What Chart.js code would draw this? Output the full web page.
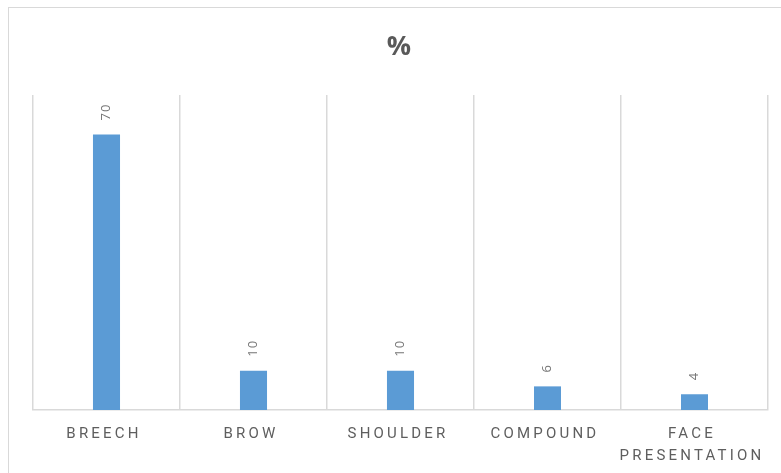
<!DOCTYPE html>
<html>
<head>
<meta charset="utf-8">
<script src="https://cdn.jsdelivr.net/npm/chart.js@4/dist/chart.umd.min.js"></script>
<style>
  html, body { margin: 0; padding: 0; background: #ffffff; overflow: hidden; }
  #frame { position: absolute; left: 8px; top: 7px; width: 800px; height: 500px;
           border: 1.5px solid #d9d9d9; box-sizing: border-box; }
  #wrap { position: absolute; left: 0; top: 0; width: 781px; height: 473px; }
</style>
</head>
<body>
<div id="frame"></div>
<div id="wrap"><canvas id="c" width="781" height="473"></canvas></div>
<script>
const categories = ['BREECH', 'BROW', 'SHOULDER', 'COMPOUND', ['FACE', 'PRESENTATION']];
const percentValues = [70, 10, 10, 6, 4];
const chartTitle = '%';
const yMin = 0;
const yMax = 80;

const spacingPlugin = {
  id: 'letterSpacing',
  beforeDraw(chart) { chart.ctx.letterSpacing = '3.2px'; },
  afterDraw(chart) { chart.ctx.letterSpacing = '0px'; }
};

const valueLabels = {
  id: 'valueLabels',
  afterDatasetsDraw(chart) {
    const ctx = chart.ctx;
    const meta = chart.getDatasetMeta(0);
    const data = chart.data.datasets[0].data;
    meta.data.forEach((bar, i) => {
      ctx.save();
      ctx.letterSpacing = '1px';
      ctx.translate(bar.x, bar.y - 14);
      ctx.rotate(-Math.PI / 2);
      ctx.font = '13px "Open Sans", sans-serif';
      ctx.fillStyle = '#767676';
      ctx.textAlign = 'left';
      ctx.textBaseline = 'middle';
      ctx.fillText(String(data[i]), 0, 0);
      ctx.restore();
    });
  }
};

new Chart(document.getElementById('c'), {
  type: 'bar',
  data: {
    labels: categories,
    datasets: [{
      data: percentValues,
      backgroundColor: '#5b9bd5',
      borderWidth: 0,
      categoryPercentage: 1.0,
      barPercentage: 0.184
    }]
  },
  options: {
    responsive: false,
    animation: false,
    events: [],
    layout: { padding: { left: 33, right: 13, top: 0, bottom: 0 } },
    plugins: {
      legend: { display: false },
      tooltip: { enabled: false },
      title: {
        display: true,
        text: chartTitle,
        color: '#595959',
        font: { family: '"Open Sans", sans-serif', size: 27, weight: 'bold', lineHeight: 1.2 },
        padding: { top: 31, bottom: 31.6 }
      }
    },
    scales: {
      x: {
        grid: { offset: true, color: '#d9d9d9', lineWidth: 1.5, drawTicks: false },
        border: { display: true, color: '#d9d9d9', width: 1.5 },
        ticks: {
          color: '#5e5e5e',
          font: { family: 'Roboto, sans-serif', size: 15, lineHeight: 1.47 },
          padding: 13,
          labelOffset: -2.5,
          maxRotation: 0,
          minRotation: 0,
          autoSkip: false
        },
        afterFit(scale) { scale.height = 63; }
      },
      y: {
        display: false,
        min: yMin,
        max: yMax
      }
    }
  },
  plugins: [spacingPlugin, valueLabels]
});
</script>
</body>
</html>
